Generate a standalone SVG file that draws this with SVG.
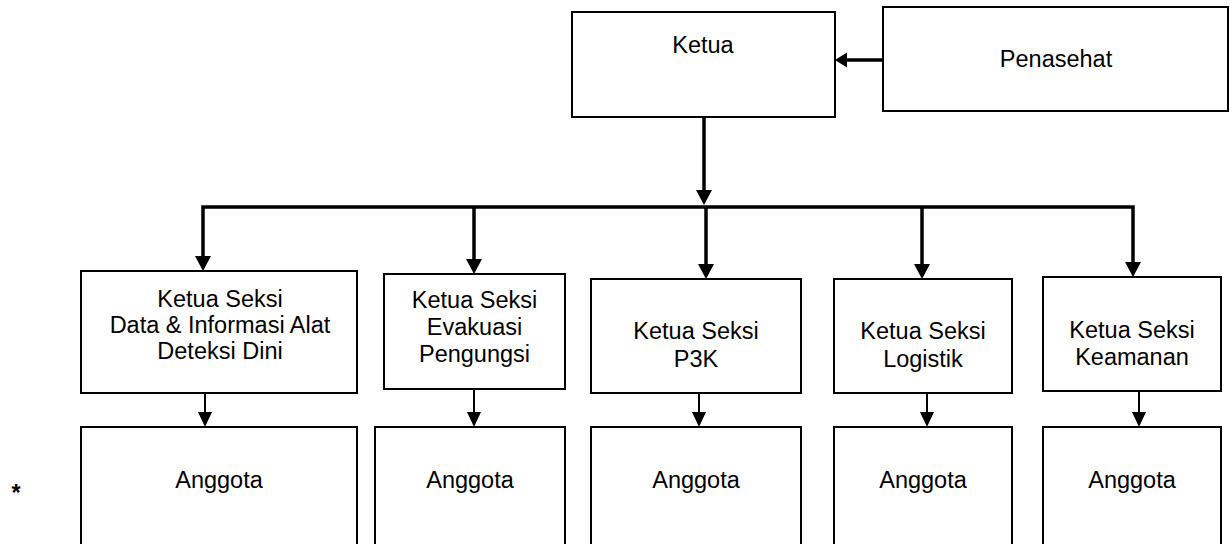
<svg xmlns="http://www.w3.org/2000/svg" width="1230" height="544" viewBox="0 0 1230 544">
<style>
.box{fill:#fff;stroke:#000;stroke-width:2}
.t{font-family:"Liberation Sans",Arial,sans-serif;font-size:23.5px;fill:#000;text-anchor:middle}
.thick{stroke:#000;stroke-width:3.5;fill:none}
.thin{stroke:#000;stroke-width:2;fill:none}
.head{fill:#000;stroke:none}
</style>
<rect width="1230" height="544" fill="#fff"/>
<g id="connectors">
<line class="thick" x1="883" y1="60" x2="845" y2="60"/>
<polygon class="head" points="835,60 847,52.5 847,67.5"/>
<line class="thick" x1="704" y1="117" x2="704" y2="191"/>
<polygon class="head" points="704,205 696,190 712,190"/>
<path class="thick" d="M203,257 V207 H1133 V263" stroke-linejoin="miter"/>
<polygon class="head" points="203,271 195,256 211,256"/>
<line class="thick" x1="474" y1="207" x2="474" y2="260"/>
<polygon class="head" points="474,274 466,259 482,259"/>
<line class="thick" x1="706" y1="207" x2="706" y2="265"/>
<polygon class="head" points="706,279 698,264 714,264"/>
<line class="thick" x1="922" y1="207" x2="922" y2="265"/>
<polygon class="head" points="922,279 914,264 930,264"/>
<polygon class="head" points="1133,277 1125,262 1141,262"/>
<line class="thin" x1="205" y1="393" x2="205" y2="413"/>
<polygon class="head" points="205,427 198,412 212,412"/>
<line class="thin" x1="474" y1="389" x2="474" y2="413"/>
<polygon class="head" points="474,427 467,412 481,412"/>
<line class="thin" x1="699" y1="393" x2="699" y2="413"/>
<polygon class="head" points="699,427 692,412 706,412"/>
<line class="thin" x1="927" y1="393" x2="927" y2="413"/>
<polygon class="head" points="927,427 920,412 934,412"/>
<line class="thin" x1="1139" y1="391" x2="1139" y2="413"/>
<polygon class="head" points="1139,427 1132,412 1146,412"/>
</g>
<g id="ketua">
<rect class="box" x="572" y="12" width="263" height="105"/>
<text class="t" x="703" y="53">Ketua</text>
</g>
<g id="penasehat">
<rect class="box" x="883" y="7" width="345" height="104"/>
<text class="t" x="1056" y="67">Penasehat</text>
</g>
<g id="seksi-data">
<rect class="box" x="81" y="271" width="276" height="122"/>
<text class="t" x="220" y="307">Ketua Seksi</text>
<text class="t" x="220" y="333">Data &amp; Informasi Alat</text>
<text class="t" x="220" y="359">Deteksi Dini</text>
</g>
<g id="seksi-evakuasi">
<rect class="box" x="384" y="274" width="181" height="115"/>
<text class="t" x="474.5" y="308">Ketua Seksi</text>
<text class="t" x="474.5" y="335">Evakuasi</text>
<text class="t" x="474.5" y="362">Pengungsi</text>
</g>
<g id="seksi-p3k">
<rect class="box" x="591" y="279" width="210" height="114"/>
<text class="t" x="696" y="339">Ketua Seksi</text>
<text class="t" x="696" y="367">P3K</text>
</g>
<g id="seksi-logistik">
<rect class="box" x="834" y="279" width="178" height="114"/>
<text class="t" x="923" y="339">Ketua Seksi</text>
<text class="t" x="923" y="367">Logistik</text>
</g>
<g id="seksi-keamanan">
<rect class="box" x="1043" y="277" width="178" height="114"/>
<text class="t" x="1132" y="338">Ketua Seksi</text>
<text class="t" x="1132" y="365">Keamanan</text>
</g>
<g id="anggota-1">
<rect class="box" x="81" y="427" width="276" height="130"/>
<text class="t" x="219" y="488">Anggota</text>
</g>
<g id="anggota-2">
<rect class="box" x="375" y="427" width="190" height="130"/>
<text class="t" x="470" y="488">Anggota</text>
</g>
<g id="anggota-3">
<rect class="box" x="591" y="427" width="210" height="130"/>
<text class="t" x="696" y="488">Anggota</text>
</g>
<g id="anggota-4">
<rect class="box" x="834" y="427" width="178" height="130"/>
<text class="t" x="923" y="488">Anggota</text>
</g>
<g id="anggota-5">
<rect class="box" x="1043" y="427" width="178" height="130"/>
<text class="t" x="1132" y="488">Anggota</text>
</g>
<text class="t" x="16" y="501" style="font-weight:bold">*</text>
</svg>
